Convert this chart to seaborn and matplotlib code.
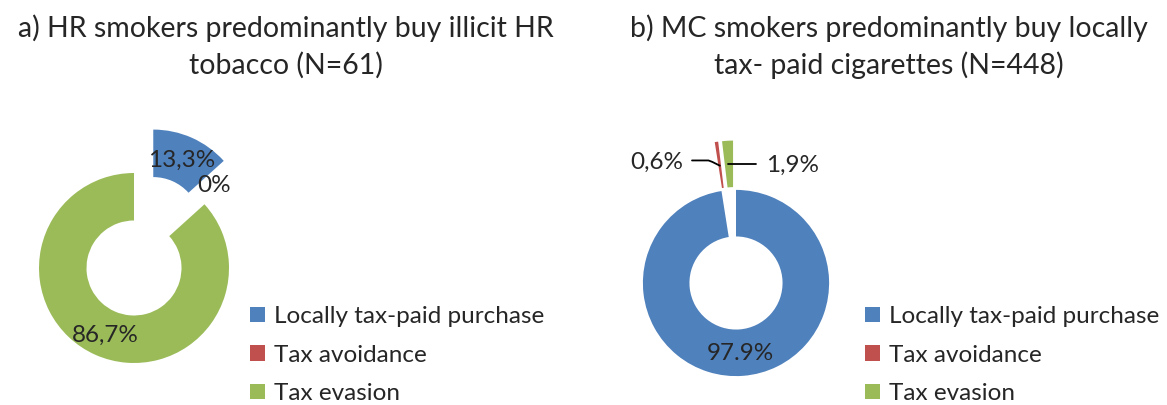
import matplotlib
matplotlib.use('Agg')
import matplotlib.pyplot as plt
import seaborn as sns

# data
categories = ['Locally tax-paid purchase', 'Tax avoidance', 'Tax evasion']
hr_values = [13.3, 0.0, 86.7]
mc_values = [97.9, 0.6, 1.9]
hr_labels = ['13,3%', '0%', '86,7%']
mc_labels = ['97.9%', '0,6%', '1,9%']
titles = ['a) HR smokers predominantly buy illicit HR\ntobacco (N=61)',
          'b) MC smokers predominantly buy locally\ntax- paid cigarettes (N=448)']

sns.set_theme(style='white')
plt.rcParams['font.family'] = ['Lato', 'DejaVu Sans']
colors = sns.color_palette(['#4F81BD', '#C0504D', '#9BBB59'])

W, H = 1167, 405
PX = 95.0  # pixels per data unit
FS = 17.5
fig = plt.figure(figsize=(W / 100, H / 100), dpi=100)


def make_ax(cx, cy, half=170):
    # cx, cy: donut centre in pixels from the top-left corner
    ax = fig.add_axes([(cx - half) / W, (H - cy - half) / H, 2 * half / W, 2 * half / H])
    return ax


def finish(ax, half=170):
    lim = half / PX
    ax.set_xlim(-lim, lim)
    ax.set_ylim(-lim, lim)
    ax.set_aspect('equal', adjustable='box')
    ax.axis('off')


# a) HR smokers
ax1 = make_ax(134, 268)
w1, _ = ax1.pie(hr_values, colors=colors, startangle=90, counterclock=False,
                radius=1.0, explode=[0.5, 0, 0],
                wedgeprops=dict(width=0.5, linewidth=0))
finish(ax1)
ax1.text(0.505, 1.137, hr_labels[0], ha='center', va='center', fontsize=FS)
ax1.text(0.84, 0.87, hr_labels[1], ha='center', va='center', fontsize=FS)
ax1.text(-0.305, -0.705, hr_labels[2], ha='center', va='center', fontsize=FS)

# b) MC smokers
ax2 = make_ax(736, 283)
w2, _ = ax2.pie(mc_values, colors=colors, startangle=90, counterclock=False,
                radius=0.98, explode=[0, 0.52, 0.52],
                wedgeprops=dict(width=0.49, linewidth=0))
finish(ax2)
ax2.text(0.05, -0.74, mc_labels[0], ha='center', va='center', fontsize=FS)
ax2.text(-0.83, 1.27, mc_labels[1], ha='center', va='center', fontsize=FS)
ax2.text(0.59, 1.24, mc_labels[2], ha='center', va='center', fontsize=FS)
ax2.plot([-0.463, -0.29, -0.25, -0.17], [1.29, 1.29, 1.275, 1.235], color='black', lw=1.3)
ax2.plot([-0.084, 0.21], [1.25, 1.25], color='black', lw=1.3)

# titles
fig.text(286 / W, 1 - 14 / H, titles[0], ha='center', va='top', fontsize=20.5, linespacing=1.45)
fig.text(889 / W, 1 - 14 / H, titles[1], ha='center', va='top', fontsize=20.5, linespacing=1.45)

# legends
for ax, wedges, x0 in [(ax1, w1, 250), (ax2, w2, 865)]:
    ax.legend(wedges, categories, loc='center left',
              bbox_to_anchor=(x0 / W, 1 - 355 / H), bbox_transform=fig.transFigure,
              frameon=False, fontsize=FS, handlelength=0.62, handleheight=0.62,
              handletextpad=0.35, labelspacing=0.72, borderpad=0, borderaxespad=0)

fig.savefig('out.png', dpi=100)
